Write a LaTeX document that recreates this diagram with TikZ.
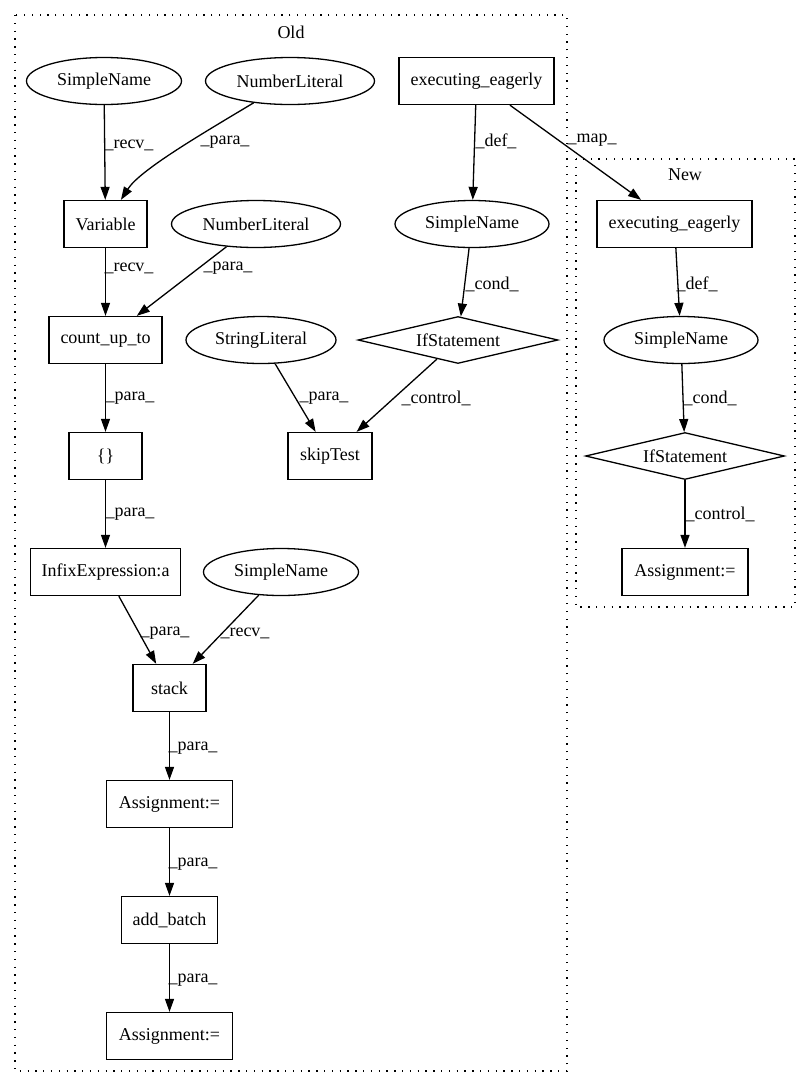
\documentclass[tikz,border=0pt]{standalone}
\usepackage{fontspec}
\setmainfont{Liberation Serif}
\usetikzlibrary{shapes.geometric,arrows.meta}
\begin{document}
\begin{tikzpicture}[x=1pt,y=-1pt,
  every node/.style={font=\fontsize{18}{21}\selectfont},
  boxn/.style={draw,line width=1.3pt,rectangle,inner sep=0pt,minimum height=47pt},
  elln/.style={draw,line width=1.3pt,ellipse,inner sep=0pt,minimum height=47pt},
  diam/.style={draw,line width=1.3pt,diamond,aspect=4.2,inner sep=0pt,minimum height=47pt},
  edge/.style={line width=1.3pt,-{Triangle[length=13pt,width=9pt]}},
  lbl/.style={inner sep=0pt},
  clus/.style={line width=1.3pt,dash pattern=on 1.3pt off 6.5pt}]
\useasboundingbox (0,0) rectangle (811,1088);
% clusters
\draw[clus] (15,15) rectangle (567,1071);
\node[lbl] (oldlbl) at (291,32) {Old};
\draw[clus] (576,159) rectangle (795,607);
\node[lbl] (newlbl) at (685,175) {New};
% Old nodes
\node[elln,minimum width=155pt] (sn1) at (104,81) {SimpleName};
\node[elln,minimum width=169pt] (nl1) at (290,81) {NumberLiteral};
\node[boxn,minimum width=155pt] (exec1) at (476.5,81) {executing\_eagerly};
\node[boxn,minimum width=83pt] (var) at (105.5,224) {Variable};
\node[elln,minimum width=169pt] (nl2) at (256,224) {NumberLiteral};
\node[elln,minimum width=154pt] (sn2) at (472,224) {SimpleName};
\node[boxn,minimum width=113pt] (cut) at (105.5,340) {count\_up\_to};
\node[elln,minimum width=150pt] (str) at (261,340) {StringLiteral};
\node[diam,minimum width=200pt] (if1) at (458,340) {IfStatement};
\node[boxn,minimum width=73pt] (br) at (105.5,456) {\{\}};
\node[boxn,minimum width=84pt] (skip) at (330,456) {skipTest};
\node[boxn,minimum width=150pt] (infix) at (105.5,572) {InfixExpression:a};
\node[elln,minimum width=155pt] (sn3) at (281,572) {SimpleName};
\node[boxn,minimum width=73pt] (stack) at (169.5,688) {stack};
\node[boxn,minimum width=126pt] (asg1) at (169.5,804) {Assignment:=};
\node[boxn,minimum width=96pt] (addb) at (169.5,920) {add\_batch};
\node[boxn,minimum width=126pt] (asg2) at (169.5,1036) {Assignment:=};
% New nodes
\node[boxn,minimum width=155pt] (exec2) at (674.5,224) {executing\_eagerly};
\node[elln,minimum width=154pt] (sn4) at (681,340) {SimpleName};
\node[diam,minimum width=199pt] (if2) at (685,456) {IfStatement};
\node[boxn,minimum width=126pt] (asg3) at (685,572) {Assignment:=};
% edges
\draw[edge] (sn1) -- (var) node[lbl] (e1) at (129,145) {\_recv\_};
\draw[edge] (nl1) .. controls (200,135) and (140,170) .. (var) node[lbl] (e2) at (225,142) {\_para\_};
\draw[edge] (exec1) -- (sn2) node[lbl] (e3) at (496,141) {\_def\_};
\draw[edge] (exec1) -- (exec2) node[lbl] (e4) at (592,140) {\_map\_};
\draw[edge] (var) -- (cut) node[lbl] (e5) at (129,268) {\_recv\_};
\draw[edge] (nl2) -- (cut) node[lbl] (e6) at (228,268) {\_para\_};
\draw[edge] (sn2) -- (if1) node[lbl] (e7) at (492,284) {\_cond\_};
\draw[edge] (cut) -- (br) node[lbl] (e8) at (130,398) {\_para\_};
\draw[edge] (str) -- (skip) node[lbl] (e9) at (324,398) {\_para\_};
\draw[edge] (if1) -- (skip) node[lbl] (e10) at (436,398) {\_control\_};
\draw[edge] (br) -- (infix) node[lbl] (e11) at (130,514) {\_para\_};
\draw[edge] (infix) -- (stack) node[lbl] (e12) at (165,633) {\_para\_};
\draw[edge] (sn3) -- (stack) node[lbl] (e13) at (245,633) {\_recv\_};
\draw[edge] (stack) -- (asg1) node[lbl] (e14) at (193,748) {\_para\_};
\draw[edge] (asg1) -- (addb) node[lbl] (e15) at (193,864) {\_para\_};
\draw[edge] (addb) -- (asg2) node[lbl] (e16) at (193,980) {\_para\_};
\draw[edge] (exec2) -- (sn4) node[lbl] (e17) at (697,284) {\_def\_};
\draw[edge] (sn4) -- (if2) node[lbl] (e18) at (710,398) {\_cond\_};
\draw[edge] (if2) -- (asg3) node[lbl] (e19) at (720,514) {\_control\_};
\end{tikzpicture}
\end{document}
